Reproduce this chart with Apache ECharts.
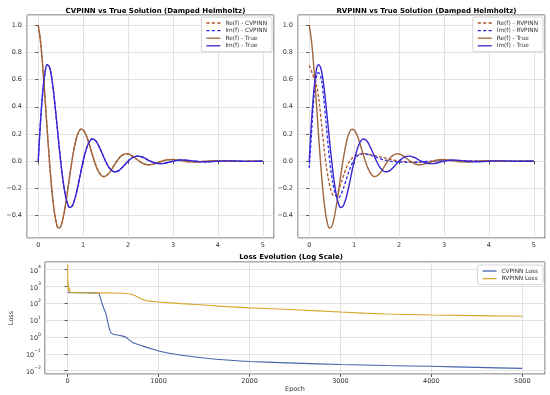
<!DOCTYPE html>
<html>
<head>
<meta charset="utf-8">
<script src="https://cdn.jsdelivr.net/npm/echarts@6/dist/echarts.min.js"></script>
<style>html,body{margin:0;padding:0;background:#fff}#c{width:550px;height:395px}</style>
</head>
<body>
<div id="c"></div>
<script>
// ---- data ----
const trueX = [0,0.05,0.1,0.15,0.2,0.25,0.3,0.35,0.4,0.45,0.5,0.55,0.6,0.65,0.7,0.75,0.8,0.85,0.9,0.95,1.0,1.05,1.1,1.15,1.2,1.25,1.3,1.35,1.4,1.45,1.5,1.55,1.6,1.65,1.7,1.75,1.8,1.85,1.9,1.95,2.0,2.05,2.1,2.15,2.2,2.25,2.3,2.35,2.4,2.45,2.5,2.6,2.7,2.8,2.9,3.0,3.1,3.2,3.3,3.4,3.5,3.6,3.7,3.8,3.9,4.0,4.1,4.2,4.3,4.4,4.5,4.6,4.7,4.8,4.9,5.0];
const trueRe = [1.000,0.884,0.698,0.471,0.230,0.000,-0.199,-0.351,-0.449,-0.491,-0.480,-0.424,-0.335,-0.226,-0.110,0.000,0.095,0.169,0.215,0.235,0.230,0.203,0.161,0.108,0.053,0.000,-0.046,-0.081,-0.103,-0.113,-0.110,-0.097,-0.077,-0.052,-0.025,0.000,0.022,0.039,0.050,0.054,0.053,0.047,0.037,0.025,0.012,0.000,-0.011,-0.019,-0.024,-0.026,-0.025,-0.018,-0.006,0.005,0.011,0.012,0.009,0.003,-0.002,-0.005,-0.006,-0.004,-0.001,0.001,0.003,0.003,0.002,0.001,-0.001,-0.001,-0.001,-0.001,0.000,0.000,0.000,0.000];
const trueIm = [0.000,0.287,0.507,0.649,0.709,0.693,0.612,0.484,0.326,0.159,0.000,-0.138,-0.243,-0.311,-0.340,-0.332,-0.293,-0.232,-0.157,-0.076,0.000,0.066,0.117,0.149,0.163,0.159,0.141,0.111,0.075,0.037,0.000,-0.032,-0.056,-0.072,-0.078,-0.076,-0.068,-0.053,-0.036,-0.018,0.000,0.015,0.027,0.034,0.037,0.037,0.032,0.026,0.017,0.008,0.000,-0.013,-0.018,-0.016,-0.008,0.000,0.006,0.009,0.007,0.004,0.000,-0.003,-0.004,-0.004,-0.002,0.000,0.001,0.002,0.002,0.001,0.000,-0.001,-0.001,-0.001,0.000,0.000];
// CVPINN prediction overlaps the true solution
const cvRe = trueRe.slice();
const cvIm = trueIm.slice();

const rvX = [0,0.05,0.1,0.15,0.2,0.25,0.3,0.35,0.4,0.45,0.5,0.55,0.6,0.65,0.7,0.75,0.8,0.85,0.9,0.95,1.0,1.1,1.2,1.3,1.4,1.5,1.6,1.7,1.8,1.9,2.0,2.2,2.4,2.6,2.8,3.0,3.2,3.5,4.0,4.5,5.0];
const rvRe = [0.705,0.66,0.615,0.57,0.49,0.35,0.19,0.04,-0.08,-0.17,-0.23,-0.255,-0.25,-0.22,-0.17,-0.12,-0.07,-0.03,0.0,0.02,0.035,0.05,0.055,0.053,0.046,0.038,0.03,0.022,0.014,0.007,0.002,-0.005,-0.009,-0.008,-0.002,0.003,0.004,0.002,0.0,0.001,0.004];
const rvIm = [-0.05,0.20,0.45,0.60,0.65,0.63,0.53,0.37,0.19,0.02,-0.11,-0.20,-0.255,-0.27,-0.25,-0.21,-0.16,-0.11,-0.06,-0.02,0.01,0.045,0.055,0.05,0.04,0.028,0.016,0.007,0.0,-0.004,-0.006,-0.008,-0.006,-0.002,0.002,0.004,0.004,0.003,0.001,0.001,0.003];

const cvEpoch = [0,100,200,300,340,360,380,400,420,440,460,480,500,550,600,640,680,720,800,900,1000,1100,1250,1500,1750,2000,2500,3000,3500,4000,4500,5000];
const cvLoss = [430,420,415,410,400,200,90,45,25,8,2.8,1.7,1.45,1.3,1.15,0.95,0.65,0.45,0.32,0.21,0.145,0.11,0.082,0.056,0.043,0.035,0.028,0.023,0.02,0.018,0.0155,0.0135];
const rvEpoch = [0,1,2,3,4,5,6,7,8,10,12,14,16,18,20,23,26,30,35,45,100,200,300,400,500,600,650,700,750,800,850,900,1000,1100,1250,1500,1750,2000,2250,2500,2750,3000,3250,3500,4000,4500,5000];
const rvLoss = [20000,3000,1200,2500,900,1800,700,1400,600,1100,550,900,500,750,470,620,450,520,430,420,418,416,414,410,405,395,380,340,270,190,150,133,118,108,95,78,63,53,47,41,35,30,26,23,20,18.5,17];

const titles = ['CVPINN vs True Solution (Damped Helmholtz)','RVPINN vs True Solution (Damped Helmholtz)','Loss Evolution (Log Scale)'];

// ---- styling ----
const FONT = 'DejaVu Sans';
const C_RE_PRED = '#b4532a', C_IM_PRED = '#2b2bf0', C_RE_TRUE = '#a0663c', C_IM_TRUE = '#3a26d0';
const C_CV = '#4565ad', C_RV = '#d6a52c';
const zip = (xs, ys) => xs.map((x, i) => [x, ys[i]]);
const minus = s => String(s).replace('-', '\u2212');
const ICON_SOLID = 'path://M0,0H16V1.5H0Z';
const ICON_DASH = 'path://M0,0H3.5V1.5H0Z M6,0H9.5V1.5H6Z M12,0H15.5V1.5H12Z';

function xAxisTop(gi) {
  return {
    gridIndex: gi, type: 'value', min: -0.25, max: 5.25, splitNumber: 5,
    axisLine: {show: false},
    axisTick: {show: true, length: 3, lineStyle: {color: '#333', width: 0.8}},
    axisLabel: {fontSize: 6.5, color: '#333', fontFamily: FONT, margin: 4, showMinLabel: false, showMaxLabel: false,
      formatter: v => minus(v)},
    splitLine: {show: true, lineStyle: {color: '#dcdcdc', width: 0.8}}
  };
}
function yAxisTop(gi) {
  return {
    gridIndex: gi, type: 'value', min: -0.5645, max: 1.0745, splitNumber: 8,
    axisLine: {show: false},
    axisTick: {show: true, length: 3, lineStyle: {color: '#333', width: 0.8}},
    axisLabel: {fontSize: 6.5, color: '#333', fontFamily: FONT, margin: 5, showMinLabel: false, showMaxLabel: false,
      formatter: v => minus(v.toFixed(1))},
    splitLine: {show: true, lineStyle: {color: '#dcdcdc', width: 0.8}}
  };
}
function line(name, xi, data, color, dashed, width) {
  return {
    name, type: 'line', xAxisIndex: xi, yAxisIndex: xi, data, smooth: 0.4, symbol: 'none', showSymbol: false,
    lineStyle: {color, width: width || 1.3, type: dashed ? [3, 2] : 'solid'}, itemStyle: {color},
    emphasis: {disabled: true}, animation: false, z: dashed ? 2 : 3
  };
}
function legendAt(right, top, items) {
  return {
    data: items.map(([name, dashed]) => ({name, icon: dashed ? ICON_DASH : ICON_SOLID})),
    orient: 'vertical', right, top, itemWidth: 14, itemHeight: 1.5, itemGap: 1.6,
    textStyle: {fontSize: 5.8, color: '#333', fontFamily: FONT},
    backgroundColor: 'rgba(255,255,255,0.85)', borderColor: '#cccccc', borderWidth: 0.8, borderRadius: 2,
    padding: [3, 5, 3, 5], selectedMode: false
  };
}

const supRich = {
  b: {fontSize: 6.5, color: '#333', fontFamily: FONT, lineHeight: 10, verticalAlign: 'bottom'},
  e: {fontSize: 4.6, color: '#333', fontFamily: FONT, lineHeight: 10, verticalAlign: 'top'}
};

const option = {
  backgroundColor: '#fff',
  animation: false,
  textStyle: {fontFamily: FONT},
  title: [
    {text: titles[0], left: 150.5, top: 3, textAlign: 'center', textStyle: {fontSize: 7, fontWeight: 'bold', color: '#000', fontFamily: FONT}},
    {text: titles[1], left: 421.5, top: 3, textAlign: 'center', textStyle: {fontSize: 7, fontWeight: 'bold', color: '#000', fontFamily: FONT}},
    {text: titles[2], left: 286, top: 249, textAlign: 'center', textStyle: {fontSize: 7, fontWeight: 'bold', color: '#000', fontFamily: FONT}}
  ],
  grid: [
    {left: 27, top: 15, width: 247, height: 223, show: true, borderColor: '#333', borderWidth: 0.8, backgroundColor: 'transparent'},
    {left: 298, top: 15, width: 247, height: 223, show: true, borderColor: '#333', borderWidth: 0.8, backgroundColor: 'transparent'},
    {left: 27, top: 262, width: 518, height: 112, show: true, borderColor: '#333', borderWidth: 0.8, backgroundColor: 'transparent'}
  ],
  legend: [
    legendAt(278, 17, [['Re(f) - CVPINN', true], ['Im(f) - CVPINN', true], ['Re(f) - True', false], ['Im(f) - True', false]]),
    legendAt(7, 17, [['Re(f) - RVPINN', true], ['Im(f) - RVPINN', true], ['Re(f) - True', false], ['Im(f) - True', false]]),
    legendAt(7, 265, [['CVPINN Loss', false], ['RVPINN Loss', false]])
  ],
  xAxis: [
    xAxisTop(0), xAxisTop(1),
    {
      gridIndex: 2, type: 'value', min: -250, max: 5250, splitNumber: 5,
      name: 'Epoch', nameLocation: 'middle', nameGap: 11,
      nameTextStyle: {fontSize: 6.5, color: '#333', fontFamily: FONT},
      axisLine: {show: false},
      axisTick: {show: true, length: 3, lineStyle: {color: '#333', width: 0.8}},
      axisLabel: {fontSize: 6.5, color: '#333', fontFamily: FONT, margin: 3.5, showMinLabel: false, showMaxLabel: false,
        formatter: v => minus(v)},
      splitLine: {show: true, lineStyle: {color: '#dcdcdc', width: 0.8}}
    }
  ],
  yAxis: [
    yAxisTop(0), yAxisTop(1),
    {
      gridIndex: 2, type: 'log', logBase: 10, min: 0.0063, max: 28000,
      name: 'Loss', nameLocation: 'middle', nameGap: 18,
      nameTextStyle: {fontSize: 6.5, color: '#333', fontFamily: FONT},
      axisLine: {show: false},
      axisTick: {show: true, length: 3, lineStyle: {color: '#333', width: 0.8}},
      axisLabel: {margin: 4, showMinLabel: false, showMaxLabel: false, rich: supRich,
        formatter: v => {
          const e = Math.log10(v);
          const r = Math.round(e);
          if (Math.abs(e - r) > 1e-6) return '';
          return '{b|10}{e|' + minus(r) + '}';
        }},
      splitLine: {show: true, lineStyle: {color: '#dcdcdc', width: 0.8}}
    }
  ],
  series: [
    line('Re(f) - CVPINN', 0, zip(trueX, cvRe), C_RE_PRED, true),
    line('Im(f) - CVPINN', 0, zip(trueX, cvIm), C_IM_PRED, true),
    line('Re(f) - True', 0, zip(trueX, trueRe), C_RE_TRUE, false, 1.4),
    line('Im(f) - True', 0, zip(trueX, trueIm), C_IM_TRUE, false, 1.4),
    line('Re(f) - RVPINN', 1, zip(rvX, rvRe), C_RE_PRED, true),
    line('Im(f) - RVPINN', 1, zip(rvX, rvIm), C_IM_PRED, true),
    line('Re(f) - True', 1, zip(trueX, trueRe), C_RE_TRUE, false, 1.4),
    line('Im(f) - True', 1, zip(trueX, trueIm), C_IM_TRUE, false, 1.4),
    Object.assign(line('CVPINN Loss', 2, zip(cvEpoch, cvLoss), C_CV, false, 1.1), {smooth: 0.3}),
    Object.assign(line('RVPINN Loss', 2, zip(rvEpoch, rvLoss), C_RV, false, 1.1), {smooth: false})
  ]
};

const chart = echarts.init(document.getElementById('c'), null, {renderer: 'canvas'});
chart.setOption(option);
</script>
</body>
</html>
